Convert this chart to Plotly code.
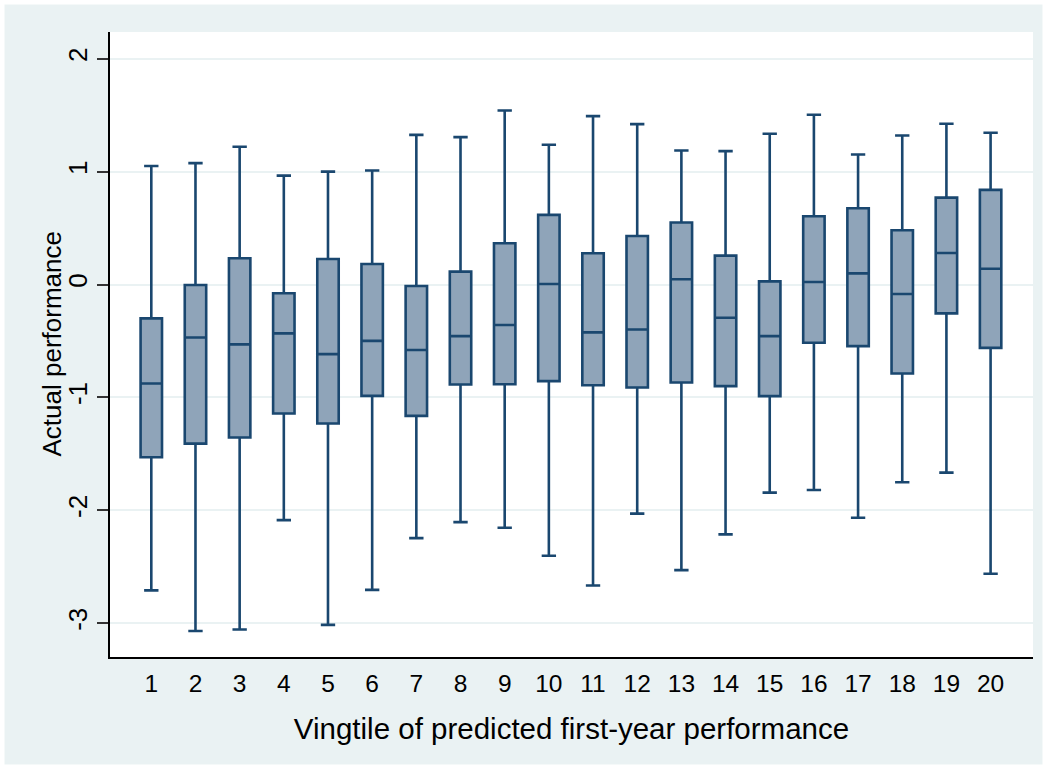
import plotly.graph_objects as go

vingtiles = list(range(1, 21))
upper_whisker = [1.05, 1.075, 1.22, 0.965, 1.00, 1.01, 1.326, 1.306, 1.542, 1.238,
                 1.492, 1.421, 1.187, 1.182, 1.335, 1.504, 1.152, 1.32, 1.424, 1.344]
q3 = [-0.30, -0.005, 0.232, -0.078, 0.226, 0.182, -0.013, 0.114, 0.366, 0.617,
      0.277, 0.43, 0.549, 0.256, 0.028, 0.605, 0.676, 0.481, 0.770, 0.838]
median = [-0.877, -0.47, -0.53, -0.433, -0.617, -0.499, -0.58, -0.457, -0.359, 0.004,
          -0.424, -0.398, 0.046, -0.294, -0.457, 0.022, 0.099, -0.084, 0.279, 0.14]
q1 = [-1.53, -1.41, -1.356, -1.143, -1.232, -0.987, -1.164, -0.886, -0.883, -0.856,
      -0.892, -0.912, -0.868, -0.90, -0.989, -0.516, -0.546, -0.788, -0.256, -0.561]
lower_whisker = [-2.71, -3.07, -3.057, -2.087, -3.015, -2.705, -2.247, -2.105, -2.155, -2.403,
                 -2.666, -2.03, -2.53, -2.214, -1.844, -1.82, -2.066, -1.752, -1.667, -2.563]
y_ticks = [-3, -2, -1, 0, 1, 2]

W, H = 1047, 769
ML, MR, MT, MB = 110, 14, 32, 112
pw, ph = W - ML - MR, H - MT - MB

LINE = "#1a476f"
FILL = "#8fa4b9"
BG = "#eaf2f3"
FONT = "Arial, Liberation Sans, sans-serif"

fig = go.Figure()
fig.add_trace(go.Box(
    x=vingtiles, q1=q1, median=median, q3=q3,
    lowerfence=lower_whisker, upperfence=upper_whisker,
    width=0.485, whiskerwidth=0.67,
    fillcolor=FILL, line=dict(color=LINE, width=2.6),
    boxpoints=False, hoverinfo="skip", showlegend=False,
))

# thin white outer frame
fig.add_shape(type="rect", xref="paper", yref="paper",
              x0=-ML / pw, x1=1 + MR / pw, y0=-MB / ph, y1=1 + MT / ph,
              line=dict(color="white", width=9), fillcolor="rgba(0,0,0,0)")

# y-axis title
fig.add_annotation(text="Actual performance", xref="paper", yref="paper",
                   x=(51 - ML) / pw, y=0.5, textangle=-90, showarrow=False,
                   xanchor="center", yanchor="middle",
                   font=dict(family=FONT, size=26, color="black"))

fig.update_layout(
    width=W, height=H,
    margin=dict(l=ML, r=MR, t=MT, b=MB),
    paper_bgcolor=BG, plot_bgcolor="white",
    font=dict(family=FONT, color="black", size=24),
    xaxis=dict(
        range=[0.065, 20.96], tickmode="array", tickvals=vingtiles,
        ticktext=[str(v) for v in vingtiles], showgrid=False, zeroline=False,
        showline=True, linecolor="black", linewidth=1.5, ticks="",
        tickfont=dict(size=24.5), ticklabelstandoff=4,
        title=dict(text="Vingtile of predicted first-year performance",
                   font=dict(size=29.5), standoff=22),
    ),
    yaxis=dict(
        range=[-3.30, 2.237], tickmode="array", tickvals=y_ticks,
        ticktext=[str(v) for v in y_ticks], tickangle=-90,
        showgrid=True, gridcolor=BG, gridwidth=2, zeroline=False,
        showline=True, linecolor="black", linewidth=1.5,
        ticks="outside", ticklen=11, tickwidth=1.5, tickcolor="#333333",
        tickfont=dict(size=26), ticklabelstandoff=0,
    ),
)

fig.write_html("out.html", config={"displayModeBar": False},
               post_script="document.body.style.margin='0';document.body.style.padding='0';")
